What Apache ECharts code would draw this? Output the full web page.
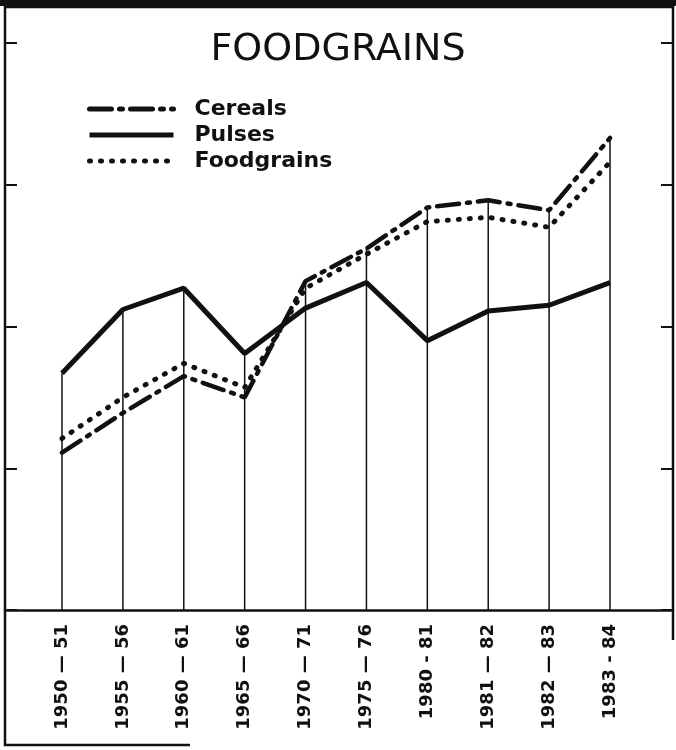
<!DOCTYPE html>
<html>
<head>
<meta charset="utf-8">
<title>Foodgrains</title>
<script src="https://cdn.jsdelivr.net/npm/echarts@6/dist/echarts.min.js"></script>
<style>
  html, body { margin: 0; padding: 0; background: #fff; }
  #main { width: 676px; height: 750px; }
</style>
</head>
<body>
<div id="main"></div>
<script>
  //x轴时期
  let years = ["1950 — 51", "1955 — 56", "1960 — 61", "1965 — 66", "1970 — 71",
    "1975 — 76", "1980 - 81", "1981 — 82", "1982 — 83", "1983 - 84"];
  let cereals = [111, 139, 165, 150, 232, 255, 284, 289, 282, 333];
  let pulses = [167, 212, 227, 181, 213, 231, 190, 211, 215, 231];
  let foodgrains = [121, 150, 174, 157, 227, 251, 274, 277, 270, 316];
  //y轴刻度(原图没有标签)
  let yTicks = [0, 100, 200, 300, 400];

  //竖线画到每个时期最高的那条线
  let dropLines = years.map((y, i) => Math.max(cereals[i], pulses[i], foodgrains[i]));

  let ink = "#111";
  let yMin = yTicks[0];
  let yMax = yTicks[yTicks.length - 1];
  let yStep = yTicks[1] - yTicks[0];

  function frameAxis(pos) {
    return {
      gridIndex: 0,
      type: "value",
      position: pos,
      min: yMin,
      max: yMax,
      interval: yStep,
      axisLine: { show: false },
      axisTick: { show: true, inside: true, length: 12, lineStyle: { color: ink, width: 2 } },
      axisLabel: { show: false },
      splitLine: { show: false },
    };
  }

  let myChart = echarts.init(document.getElementById("main"));
  let option = {
    backgroundColor: "#fff",
    animation: false,
    title: {
      text: "FOODGRAINS",
      left: "center",
      top: 26,
      textStyle: {
        color: ink,
        fontSize: 38,
        fontWeight: "normal",
        fontFamily: "DejaVu Sans",
      },
    },
    legend: {
      orient: "vertical",
      left: 82,
      top: 93,
      itemWidth: 84,
      itemHeight: 14,
      itemGap: 4,
      data: ["Cereals", "Pulses", "Foodgrains"],
      //图例只要线,不要圆点
      itemStyle: { opacity: 0 },
      lineStyle: { width: 5 },
      textStyle: {
        color: ink,
        fontSize: 22,
        fontWeight: "bold",
        fontFamily: "DejaVu Sans",
        padding: [0, 0, 0, 16],
      },
    },
    //外框
    graphic: [
      { type: "rect", shape: { x: 0, y: 0, width: 676, height: 6 }, style: { fill: ink } },
      {
        type: "polyline",
        shape: { points: [[190, 745], [5, 745], [5, 7], [673, 7], [673, 640]] },
        style: { stroke: ink, lineWidth: 2.5, fill: null },
      },
    ],
    grid: [
      { left: 5, right: 3, top: 43, bottom: 140 },
      { left: 62, right: 66, top: 43, bottom: 140 },
    ],
    xAxis: [
      {
        gridIndex: 0,
        type: "value",
        min: 0,
        max: 1,
        axisLine: { show: true, lineStyle: { color: ink, width: 2.5 } },
        axisTick: { show: false },
        axisLabel: { show: false },
        splitLine: { show: false },
      },
      {
        gridIndex: 1,
        type: "category",
        data: years,
        boundaryGap: false,
        axisLine: { show: false },
        axisTick: { show: false },
        axisLabel: {
          interval: 0,
          rotate: 90,
          margin: 14,
          color: ink,
          fontSize: 18,
          fontWeight: "bold",
          fontFamily: "DejaVu Sans",
        },
      },
    ],
    yAxis: [
      frameAxis("left"),
      frameAxis("right"),
      { gridIndex: 1, type: "value", min: yMin, max: yMax, interval: yStep, show: false },
    ],
    series: [
      {
        name: "drop",
        type: "bar",
        xAxisIndex: 1,
        yAxisIndex: 2,
        barWidth: 1.5,
        silent: true,
        itemStyle: { color: ink },
        data: dropLines,
        z: 1,
      },
      {
        name: "Cereals",
        type: "line",
        xAxisIndex: 1,
        yAxisIndex: 2,
        symbol: "none",
        itemStyle: { color: ink },
        lineStyle: { color: ink, width: 4.5, type: [22, 8, 3, 8], cap: "round" },
        data: cereals,
        z: 3,
      },
      {
        name: "Pulses",
        type: "line",
        xAxisIndex: 1,
        yAxisIndex: 2,
        symbol: "none",
        itemStyle: { color: ink },
        lineStyle: { color: ink, width: 5 },
        data: pulses,
        z: 3,
      },
      {
        name: "Foodgrains",
        type: "line",
        xAxisIndex: 1,
        yAxisIndex: 2,
        symbol: "none",
        itemStyle: { color: ink },
        lineStyle: { color: ink, width: 5, type: [1, 10], cap: "round" },
        data: foodgrains,
        z: 3,
      },
    ],
  };
  myChart.setOption(option);
</script>
</body>
</html>
